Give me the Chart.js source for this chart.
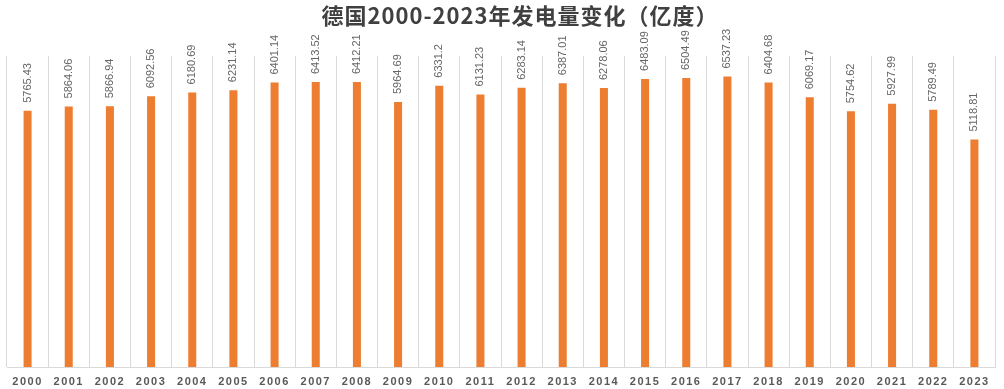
<!DOCTYPE html>
<html>
<head>
<meta charset="utf-8">
<script src="https://cdn.jsdelivr.net/npm/chart.js@4/dist/chart.umd.min.js"></script>
<style>
  html, body { margin: 0; padding: 0; background: #ffffff; }
  #wrap { width: 1004px; height: 389px; position: relative; }
</style>
</head>
<body>
<div id="wrap"><canvas id="c"></canvas></div>
<script>
const titleText = '德国2000-2023年发电量变化（亿度）';
const years = ['2000','2001','2002','2003','2004','2005','2006','2007','2008','2009','2010','2011',
               '2012','2013','2014','2015','2016','2017','2018','2019','2020','2021','2022','2023'];
const generation = [5765.43, 5864.06, 5866.94, 6092.56, 6180.69, 6231.14, 6401.14, 6413.52, 6412.21, 5964.69,
                    6331.2, 6131.23, 6283.14, 6387.01, 6278.06, 6483.09, 6504.49, 6537.23, 6404.68, 6069.17,
                    5754.62, 5927.99, 5789.49, 5118.81];

const valueLabels = {
  id: 'valueLabels',
  afterLayout(chart) {
    if (chart.titleBlock) { chart.titleBlock.left += 38; }
  },
  beforeDraw(chart) {
    chart.ctx.letterSpacing = '1px';
  },
  afterDatasetsDraw(chart) {
    const ctx = chart.ctx;
    const meta = chart.getDatasetMeta(0);
    const data = chart.data.datasets[0].data;
    ctx.save();
    ctx.letterSpacing = '0px';
    ctx.font = '11px "Liberation Sans", Arial, sans-serif';
    ctx.fillStyle = '#666666';
    ctx.textAlign = 'left';
    ctx.textBaseline = 'middle';
    meta.data.forEach((bar, i) => {
      ctx.save();
      ctx.translate(bar.x, bar.y - 8);
      ctx.rotate(-Math.PI / 2);
      ctx.fillText(String(data[i]), 0, 0);
      ctx.restore();
    });
    ctx.restore();
    ctx.letterSpacing = '1.5px';
  },
  afterDraw(chart) {
    chart.ctx.letterSpacing = '0px';
  }
};

new Chart(document.getElementById('c'), {
  type: 'bar',
  data: {
    labels: years,
    datasets: [{
      data: generation,
      backgroundColor: '#ED7D31',
      borderWidth: 0,
      categoryPercentage: 1,
      barPercentage: 0.195
    }]
  },
  options: {
    responsive: true,
    maintainAspectRatio: false,
    animation: false,
    devicePixelRatio: 1,
    layout: { padding: { left: 7, right: 9, top: 0, bottom: 0 } },
    plugins: {
      legend: { display: false },
      tooltip: { enabled: false },
      title: {
        display: true,
        text: titleText,
        color: '#404040',
        font: { family: '"Noto Sans CJK SC", sans-serif', size: 22, weight: 'bold' },
        padding: { top: 2, bottom: 27.6 }
      }
    },
    scales: {
      x: {
        grid: { offset: true, color: '#d9d9d9', lineWidth: 1, drawTicks: false },
        border: { color: '#d9d9d9' },
        afterFit(scale) { scale.height = 22; },
        ticks: {
          z: 1,
          color: '#595959',
          padding: 8,
          maxRotation: 0,
          autoSkip: false,
          font: { family: '"Liberation Sans", Arial, sans-serif', size: 11, weight: 'bold' }
        }
      },
      y: {
        display: false,
        min: 0,
        max: 7000
      }
    }
  },
  plugins: [valueLabels]
});
</script>
</body>
</html>
